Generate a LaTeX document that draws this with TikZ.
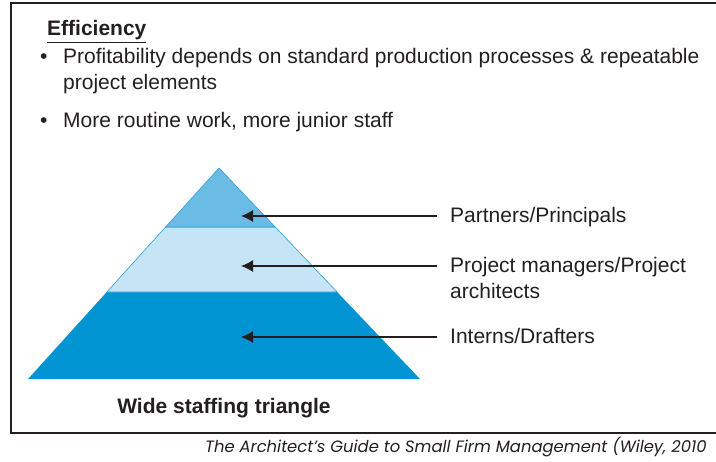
\documentclass[tikz,border=0pt]{standalone}
\usepackage{fontspec}
\setmainfont{Liberation Sans}
\newfontfamily\citefont{Poppins}
\usetikzlibrary{arrows.meta,calc}

\definecolor{tiertop}{HTML}{6BBCE4}
\definecolor{tiermid}{HTML}{C5E4F5}
\definecolor{tierlow}{HTML}{0094D2}
\definecolor{tierline}{HTML}{2B9ED8}
\definecolor{inkgray}{HTML}{231F20}

\tikzset{
  txt/.style={inner sep=0pt, font=\fontsize{21}{26}\selectfont, text=inkgray},
  lbl/.style={txt, anchor=base west},
  pointer/.style={-{Latex[length=12pt,width=12pt]}, line width=1.2pt, inkgray, shorten <=13pt},
}

\begin{document}
\begin{tikzpicture}[x=1pt,y=-1pt]
\useasboundingbox (0,0) rectangle (716,462);

% Frame around the slide
\draw[line width=1.3pt, inkgray] (11,3) rectangle (730,433);

% Heading and bullets (multi-line nodes sit on their last baseline)
\node[lbl] (head) at (47,36) {\textbf{\underline{Efficiency}}};
\node[lbl] (dot1) at (40,64) {•};
\node[lbl, align=left] (item1) at (63,90) {Profitability depends on standard production processes \& repeatable\\project elements};
\node[lbl] (dot2) at (40,128) {•};
\node[lbl] (item2) at (63,128) {More routine work, more junior staff};

% Triangle corners
\coordinate (apex) at (219,168);
\coordinate (bl) at (28,379);
\coordinate (br) at (420,379);
\coordinate (l1) at ($(apex)!0.2796!(bl)$);
\coordinate (r1) at ($(apex)!0.2796!(br)$);
\coordinate (l2) at ($(apex)!0.5877!(bl)$);
\coordinate (r2) at ($(apex)!0.5877!(br)$);

% Tiers, bottom to top
\fill[tierlow] (l2) -- (r2) -- (br) -- (bl) -- cycle;
\filldraw[fill=tiermid, draw=tierline, line width=0.6pt] (l1) -- (r1) -- (r2) -- (l2) -- cycle;
\filldraw[fill=tiertop, draw=tierline, line width=0.6pt] (apex) -- (r1) -- (l1) -- cycle;

% Arrow tips inside the tiers
\coordinate (tip1) at (241,216);
\coordinate (tip2) at (241,266);
\coordinate (tip3) at (241,337);

% Labels for the tiers
\node[lbl] (partners) at (450,223) {Partners/Principals};
\node[lbl, align=left] (managers) at (450,299) {Project managers/Project\\architects};
\node[lbl] (interns) at (450,344) {Interns/Drafters};

\draw[pointer] (partners.west |- tip1) -- (tip1);
\draw[pointer] (managers.west |- tip2) -- (tip2);
\draw[pointer] (interns.west |- tip3) -- (tip3);

% Caption
\node[lbl, anchor=base] (caption) at (224,414) {\textbf{Wide staffing triangle}};

% Source line
\node[inner sep=0pt, anchor=base west, text=inkgray, font=\citefont\itshape\fontsize{16.4}{20}\selectfont] (source) at (205,453) {The Architect’s Guide to Small Firm Management (Wiley, 2010};
\end{tikzpicture}
\end{document}
